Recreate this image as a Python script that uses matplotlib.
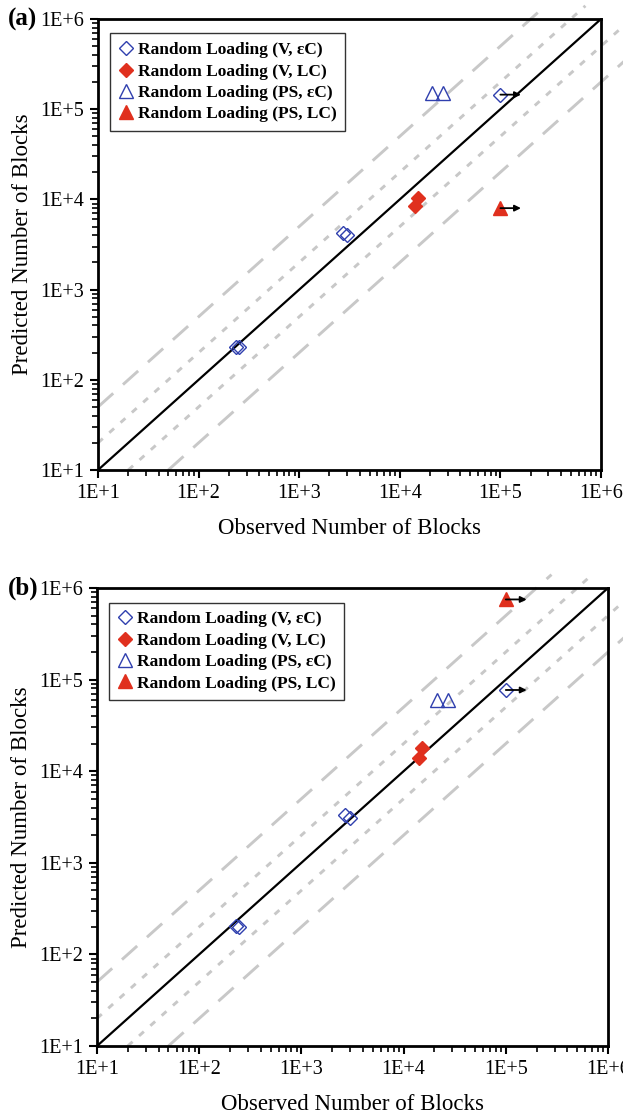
import numpy as np
import matplotlib.pyplot as plt
from matplotlib.ticker import FuncFormatter, LogLocator

plt.rcParams['font.family'] = ['Liberation Serif', 'DejaVu Serif']

# observed / predicted blocks, panel (a)
a_v_ec_obs = [235, 250, 2700, 3000, 100000]
a_v_ec_pred = [232, 230, 4200, 4000, 145000]
a_v_lc_obs = [15000, 14000]
a_v_lc_pred = [10400, 8500]
a_ps_ec_obs = [21000, 27000]
a_ps_ec_pred = [150000, 150000]
a_ps_lc_obs = [100000]
a_ps_lc_pred = [8000]

# observed / predicted blocks, panel (b)
b_v_ec_obs = [230, 245, 2700, 3000, 100000]
b_v_ec_pred = [205, 200, 3300, 3100, 77000]
b_v_lc_obs = [15000, 14000]
b_v_lc_pred = [18000, 14000]
b_ps_ec_obs = [21000, 27000]
b_ps_ec_pred = [60000, 60000]
b_ps_lc_obs = [100000]
b_ps_lc_pred = [750000]

# run-outs (test stopped before failure) get an arrow
arrow_end = 160000

labels = ['Random Loading (V, \u03b5C)', 'Random Loading (V, LC)',
          'Random Loading (PS, \u03b5C)', 'Random Loading (PS, LC)']

blue = '#2f3fae'
red = '#e0301e'
grey = '#c8c8c8'


def draw(ax, series, runouts, tag):
    lo, hi = 10, 1e6
    ax.set_xscale('log')
    ax.set_yscale('log')
    ax.set_xlim(lo, hi)
    ax.set_ylim(lo, hi)

    # scatter bands: factor 2 dotted, factor 5 dashed
    dash = (0, (7, 4.5))
    dot = (0, (2.2, 3.0))
    for k, ls in [(5, dash), (2, dot), (0.5, dot), (0.2, dash)]:
        x0 = max(lo, lo / k)
        x1 = 1.8e6 if k < 1 else 1.4e6 / k
        xs = np.array([x0, x1])
        ax.plot(xs, xs * k, color=grey, lw=2.1, ls=ls, clip_on=False, zorder=1)
    ax.plot([lo, hi], [lo, hi], color='black', lw=1.6, zorder=2)

    styles = [dict(marker='D', mfc='none', mec=blue, ms=7.5, mew=1.0),
              dict(marker='D', mfc=red, mec=red, ms=7.5, mew=1.0),
              dict(marker='^', mfc='none', mec=blue, ms=10, mew=1.0),
              dict(marker='^', mfc=red, mec=red, ms=10, mew=1.0)]
    for (xo, yp), st, lab in zip(series, styles, labels):
        ax.plot(xo, yp, ls='none', label=lab, zorder=4, clip_on=False, **st)

    for xo, yp in runouts:
        ax.annotate('', xy=(arrow_end, yp), xytext=(xo, yp),
                    arrowprops=dict(arrowstyle='-|>', color='black', lw=1.3,
                                    shrinkA=0, shrinkB=0, mutation_scale=9),
                    zorder=5)

    fmt = FuncFormatter(lambda v, p: '1E+%d' % round(np.log10(v)))
    for axis in (ax.xaxis, ax.yaxis):
        axis.set_major_locator(LogLocator(base=10, numticks=10))
        axis.set_minor_locator(LogLocator(base=10, subs=np.arange(2, 10), numticks=10))
        axis.set_major_formatter(fmt)
    ax.tick_params(which='major', direction='out', length=6, width=1.5, labelsize=14.5, pad=4)
    ax.tick_params(which='minor', direction='out', length=4, width=1.2)
    ax.tick_params(top=False, right=False)
    for s in ax.spines.values():
        s.set_linewidth(2)

    ax.set_xlabel('Observed Number of Blocks', fontsize=16.5, labelpad=11)
    ax.set_ylabel('Predicted Number of Blocks', fontsize=16.5, labelpad=5)

    leg = ax.legend(loc='upper left', bbox_to_anchor=(0.024, 0.968), frameon=True,
                    fancybox=False, edgecolor='#333333', framealpha=1,
                    prop=dict(family='Liberation Serif', weight='bold', size=12.5),
                    handlelength=0.8, handletextpad=0.3, borderpad=0.5,
                    labelspacing=0.3, borderaxespad=0)
    leg.get_frame().set_linewidth(1.0)

    fig.text(8 / 623, ax.get_position().y1, tag,
             fontsize=18, fontweight='bold', va='center', ha='left')


fig = plt.figure(figsize=(6.23, 11.19), dpi=100)
ax_a = fig.add_axes([98 / 623, 1 - 470 / 1119, 503 / 623, 451 / 1119])
ax_b = fig.add_axes([97 / 623, 1 - 1046 / 1119, 511 / 623, 458 / 1119])

draw(ax_a,
     [(a_v_ec_obs, a_v_ec_pred), (a_v_lc_obs, a_v_lc_pred),
      (a_ps_ec_obs, a_ps_ec_pred), (a_ps_lc_obs, a_ps_lc_pred)],
     [(a_v_ec_obs[-1], a_v_ec_pred[-1]), (a_ps_lc_obs[0], a_ps_lc_pred[0])],
     '(a)')
draw(ax_b,
     [(b_v_ec_obs, b_v_ec_pred), (b_v_lc_obs, b_v_lc_pred),
      (b_ps_ec_obs, b_ps_ec_pred), (b_ps_lc_obs, b_ps_lc_pred)],
     [(b_v_ec_obs[-1], b_v_ec_pred[-1]), (b_ps_lc_obs[0], b_ps_lc_pred[0])],
     '(b)')

fig.savefig('out.png', dpi=100)
